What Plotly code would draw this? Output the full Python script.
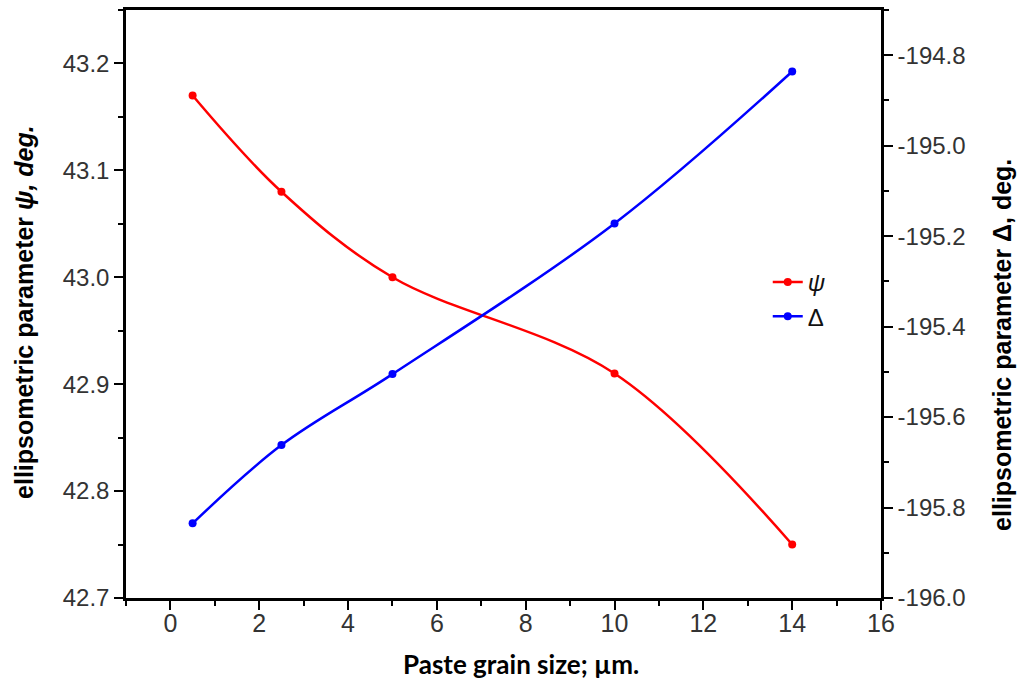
import plotly.graph_objects as go

grain_size = [0.5, 2.5, 5, 10, 14]
psi = [43.17, 43.08, 43.00, 42.91, 42.75]
delta = [-195.835, -195.662, -195.505, -195.172, -194.836]

x_ticks = [0, 2, 4, 6, 8, 10, 12, 14, 16]
psi_ticks = [42.7, 42.8, 42.9, 43.0, 43.1, 43.2]
delta_ticks = [-196.0, -195.8, -195.6, -195.4, -195.2, -195.0, -194.8]

fig = go.Figure()
fig.add_trace(go.Scatter(
    x=grain_size, y=psi, name="<i>ψ</i>", mode="lines+markers",
    line=dict(color="#ff0000", width=2.5, shape="spline", smoothing=1.0),
    marker=dict(color="#ff0000", size=8, symbol="circle"),
    yaxis="y"))
fig.add_trace(go.Scatter(
    x=grain_size, y=delta, name="Δ", mode="lines+markers",
    line=dict(color="#0000ff", width=2.5, shape="spline", smoothing=1.0),
    marker=dict(color="#0000ff", size=8, symbol="circle"),
    yaxis="y2"))

tickfont = dict(family="Liberation Sans, Arial, sans-serif", size=24, color="#333333")

fig.update_layout(
    width=1023, height=686,
    margin=dict(l=126, r=142, t=7, b=88, pad=0),
    paper_bgcolor="white", plot_bgcolor="white",
    showlegend=True,
    legend=dict(x=0.85, y=0.575, xanchor="left", yanchor="top",
                bgcolor="rgba(0,0,0,0)", borderwidth=0,
                font=dict(family="Liberation Sans, Arial, sans-serif", size=24, color="#111")),
    xaxis=dict(
        range=[-1, 16], tickvals=x_ticks, ticktext=[str(v) for v in x_ticks],
        showgrid=False, zeroline=False,
        showline=True, linecolor="black", linewidth=2.5, mirror=True,
        ticks="outside", ticklen=9, tickwidth=2, tickcolor="black",
        minor=dict(ticks="outside", ticklen=5, tickwidth=2, tickcolor="black", dtick=1, tick0=0),
        tickfont=dict(family="Liberation Sans Narrow, Arial Narrow, Liberation Sans, sans-serif", size=25, color="#333333"),
        ticklabelstandoff=-8,
    ),
    yaxis=dict(
        range=[42.7, 43.25], tickvals=psi_ticks, ticktext=[f"{v:.1f}" for v in psi_ticks],
        showgrid=False, zeroline=False,
        showline=True, linecolor="black", linewidth=2.5,
        ticks="outside", ticklen=9, tickwidth=2, tickcolor="black",
        minor=dict(ticks="outside", ticklen=5, tickwidth=2, tickcolor="black", dtick=0.05, tick0=42.7),
        tickfont=tickfont,
    ),
    yaxis2=dict(
        range=[-196.0, -194.7], tickvals=delta_ticks, ticktext=[f"{v:.1f}" for v in delta_ticks],
        overlaying="y", side="right",
        showgrid=False, zeroline=False,
        showline=True, linecolor="black", linewidth=2.5,
        ticks="outside", ticklen=9, tickwidth=2, tickcolor="black",
        minor=dict(ticks="outside", ticklen=5, tickwidth=2, tickcolor="black", dtick=0.1, tick0=-196.0),
        tickfont=tickfont,
    ),
    annotations=[
        dict(text="<b>ellipsometric parameter <i>ψ, deg.</i></b>", textangle=-90,
             xref="paper", yref="paper", x=-0.136, y=0.487, xanchor="center", yanchor="middle",
             showarrow=False, font=dict(family="Liberation Sans, Arial, sans-serif", size=25, color="black")),
        dict(text="<b>ellipsometric parameter Δ, deg.</b>", textangle=-90,
             xref="paper", yref="paper", x=1.160, y=0.43, xanchor="center", yanchor="middle",
             showarrow=False, font=dict(family="Liberation Sans, Arial, sans-serif", size=25, color="black")),
        dict(text="<b>Paste grain size; µm.</b>",
             xref="paper", yref="paper", x=0.523, y=-0.113, xanchor="center", yanchor="middle",
             showarrow=False, font=dict(family="Lato, Open Sans, sans-serif", size=26, color="black")),
    ],
)

fig.write_html("out.html")
